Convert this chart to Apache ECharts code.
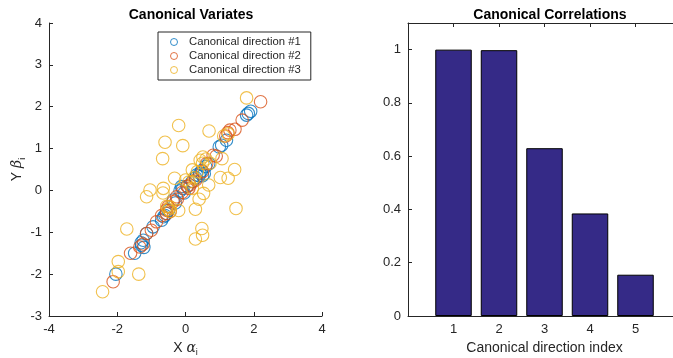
<!DOCTYPE html>
<html>
<head>
<meta charset="utf-8">
<script src="https://cdn.jsdelivr.net/npm/echarts@6/dist/echarts.min.js"></script>
<style>
  html, body { margin: 0; padding: 0; background: #fff; }
  #main { width: 673px; height: 358px; }
</style>
</head>
<body>
<div id="main"></div>
<script>
// canonical variates, [alpha, beta] pairs
const dir1 = [
    [-2.04, -2.0], [-1.49, -1.5], [-1.29, -1.31], [-1.22, -1.36], [-1.3, -1.25], [-1.24, -1.19],
    [-1.14, -1.03], [-0.95, -0.87], [-0.7, -0.71], [-0.64, -0.63], [-0.6, -0.6], [-0.56, -0.55],
    [-0.5, -0.48], [-0.36, -0.23], [-0.3, -0.3], [-0.16, -0.01], [-0.12, 0.09], [-0.08, 0.05],
    [-0.04, -0.06], [0.05, 0.1], [0.2, 0.22], [0.3, 0.3], [0.32, 0.37], [0.4, 0.35], [0.42, 0.41],
    [0.47, 0.47], [0.5, 0.35], [0.55, 0.4], [0.59, 0.57], [0.68, 0.64], [0.99, 1.04], [1.06, 1.08],
    [1.2, 1.2], [1.79, 1.8], [1.84, 1.84], [1.91, 1.89]
];
const dir2 = [
    [-2.12, -2.18], [-1.61, -1.5], [-1.34, -1.35], [-1.24, -1.28], [-1.14, -1.03], [-1.0, -0.95],
    [-0.85, -0.75], [-0.7, -0.6], [-0.56, -0.47], [-0.55, -0.55], [-0.51, -0.39], [-0.45, -0.5],
    [-0.36, -0.27], [-0.26, -0.15], [-0.24, -0.21], [-0.1, -0.05], [0.05, 0.1], [0.1, 0.05],
    [0.13, 0.13], [0.22, 0.21], [0.3, 0.25], [0.5, 0.45], [0.62, 0.64], [0.81, 0.84], [0.9, 0.82],
    [1.18, 1.3], [1.24, 1.38], [1.3, 1.44], [1.45, 1.46], [1.66, 1.68], [2.2, 2.12]
];
const dir3 = [
    [1.79, 2.21], [0.69, 1.42], [-0.2, 1.55], [-0.6, 1.15], [-0.08, 1.07], [-0.67, 0.76],
    [-0.32, 0.29], [-0.65, 0.05], [-0.66, -0.06], [-1.04, 0.01], [-1.14, -0.15], [-1.72, -0.92],
    [-1.97, -1.7], [-1.97, -1.94], [-1.37, -2.0], [-2.43, -2.42], [1.44, 0.5], [1.02, 0.31],
    [1.25, 0.29], [1.07, 0.76], [1.48, -0.43], [0.68, 0.13], [0.53, -0.07], [0.4, -0.21],
    [0.29, -0.45], [0.48, -0.91], [0.5, -1.07], [0.29, -1.16], [0.51, 0.8], [0.2, 0.49],
    [-0.5, -0.45], [-0.45, -0.5], [-0.2, -0.48], [0.1, 0.2], [0.25, 0.3], [0.35, 0.45],
    [0.5, 0.65], [0.72, 0.65], [1.12, 1.3], [1.25, 1.35], [-0.55, -0.38], [0.0, 0.25],
    [0.2, 0.05], [0.6, 0.75], [0.43, 0.72], [-0.45, -0.4]
];
const dirNames = ['Canonical direction #1', 'Canonical direction #2', 'Canonical direction #3'];
const dirColors = ['#0072BD', '#D95319', '#EDB120'];

// canonical correlations
const corrIndex = [1, 2, 3, 4, 5];
const corrValues = [1.0, 0.998, 0.63, 0.385, 0.155];

const FONT = 'Liberation Sans, Arial, Helvetica, sans-serif';
const AX = '#262626';

function axisBase() {
    return {
        axisLine: { show: true, onZero: false, lineStyle: { color: AX, width: 1 } },
        axisTick: { show: true, inside: true, length: 4, lineStyle: { color: AX } },
        axisLabel: { color: AX, fontSize: 13, fontFamily: FONT, margin: 7 },
        splitLine: { show: false }
    };
}

const nameRich = {
    g: { fontSize: 14, fontStyle: 'italic', fontFamily: 'DejaVu Serif', color: AX },
    s: { fontSize: 9, color: AX, padding: [10, 0, 0, 0] }
};

const chart = echarts.init(document.getElementById('main'));
const option = {
    animation: false,
    textStyle: { fontFamily: FONT },
    title: [
        { text: 'Canonical Variates', left: 186, top: 3, textAlign: 'center',
          textStyle: { fontSize: 14, fontWeight: 'bold', color: '#000', fontFamily: FONT } },
        { text: 'Canonical Correlations', left: 545, top: 3, textAlign: 'center',
          textStyle: { fontSize: 14, fontWeight: 'bold', color: '#000', fontFamily: FONT } }
    ],
    legend: {
        data: dirNames,
        orient: 'vertical',
        left: 158,
        top: 32,
        padding: [3, 10, 3, 12],
        itemGap: 0,
        itemWidth: 14,
        itemHeight: 7,
        borderColor: AX,
        borderWidth: 1,
        itemStyle: { borderWidth: 1 },
        textStyle: { fontSize: 11.3, color: AX, fontFamily: FONT, lineHeight: 14, padding: [0, 0, 0, 3] }
    },
    grid: [
        { left: 49, right: 351, top: 23, bottom: 42, outerBoundsMode: 'none' },
        { left: 408, width: 273, top: 23, bottom: 42, outerBoundsMode: 'none' }
    ],
    xAxis: [
        Object.assign(axisBase(), {
            gridIndex: 0, type: 'value', min: -4, max: 4, interval: 2,
            name: 'X {g|α}{s|i}', nameLocation: 'middle', nameGap: 16,
            nameTextStyle: { color: AX, fontSize: 14, fontFamily: FONT, rich: nameRich }
        }),
        Object.assign(axisBase(), {
            gridIndex: 1, type: 'value', min: 0, max: 6, interval: 1,
            axisLabel: {
                color: AX, fontSize: 13, fontFamily: FONT, margin: 7,
                formatter: v => (v >= 1 && v <= 5 ? String(v) : '')
            },
            axisTick: { show: true, inside: true, length: 4, lineStyle: { color: AX },
                        customValues: corrIndex },
            name: 'Canonical direction index', nameLocation: 'middle', nameGap: 17,
            nameTextStyle: { color: AX, fontSize: 14, fontFamily: FONT }
        }),
        Object.assign(axisBase(), {
            gridIndex: 1, type: 'value', min: 0, max: 6, interval: 1, position: 'top',
            axisLabel: { show: false },
            axisTick: { show: true, inside: true, length: 4, lineStyle: { color: AX },
                        customValues: corrIndex }
        })
    ],
    yAxis: [
        Object.assign(axisBase(), {
            gridIndex: 0, type: 'value', min: -3, max: 4, interval: 1,
            name: 'Y {g|β}{s|i}', nameLocation: 'middle', nameGap: 21, nameRotate: 90,
            nameTextStyle: { color: AX, fontSize: 14, fontFamily: FONT, rich: nameRich }
        }),
        Object.assign(axisBase(), {
            gridIndex: 1, type: 'value', min: 0, max: 1.1, interval: 0.2,
            axisLabel: {
                color: AX, fontSize: 13, fontFamily: FONT, margin: 7,
                formatter: v => (v > 1.05 ? '' : String(+v.toFixed(1)))
            }
        }),
        Object.assign(axisBase(), {
            gridIndex: 1, type: 'value', min: 0, max: 1.1, interval: 0.2, position: 'right',
            axisLabel: { show: false }
        })
    ],
    series: [
        ...[dir1, dir2, dir3].map((d, i) => ({
            name: dirNames[i],
            type: 'scatter',
            xAxisIndex: 0,
            yAxisIndex: 0,
            data: d,
            symbol: 'circle',
            symbolSize: 12.5,
            itemStyle: { color: 'rgba(255,255,255,0)', borderColor: dirColors[i], borderWidth: 1.1 }
        })),
        {
            name: 'corr',
            type: 'bar',
            xAxisIndex: 1,
            yAxisIndex: 1,
            data: corrIndex.map((c, i) => [c, corrValues[i]]),
            barWidth: 36.5,
            itemStyle: { color: '#352a87', borderColor: '#000', borderWidth: 1 }
        }
    ]
};
chart.setOption(option);
window.addEventListener('resize', () => chart.resize());
</script>
</body>
</html>
